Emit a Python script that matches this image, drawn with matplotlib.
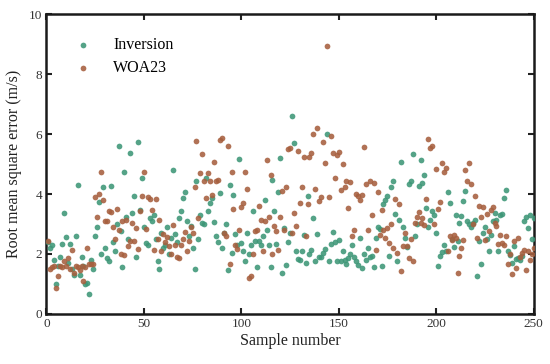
import numpy as np
import matplotlib
matplotlib.use("Agg")
import matplotlib.pyplot as plt

plt.rcParams['font.family'] = ['Liberation Serif', 'DejaVu Serif']

samples = np.arange(1, 251)

inversion = [
    2.4, 2.2, 2.3, 1.8, 1.0, 1.6, 1.9, 2.33, 3.36, 2.57,
    1.7, 2.33, 1.5, 1.3, 2.6, 4.31, 1.3, 1.89, 1.6, 1.0,
    1.04, 0.65, 1.8, 1.5, 2.6, 2.9, 3.75, 2.0, 4.24, 2.2,
    1.87, 1.76, 4.27, 2.4, 2.1, 3.0, 5.61, 2.76, 1.57, 4.73,
    3.25, 2.5, 5.36, 3.36, 3.92, 1.9, 5.72, 3.46, 4.55, 2.89,
    2.37, 2.3, 3.2, 3.09, 3.31, 2.5, 1.76, 1.49, 2.7, 2.2,
    2.3, 2.9, 2.0, 2.54, 4.81, 2.68, 2.4, 3.2, 3.42, 3.86,
    4.08, 3.09, 2.6, 2.93, 2.2, 1.49, 4.45, 2.5, 3.3, 3.04,
    2.99, 4.53, 3.42, 3.7, 3.87, 3.07, 2.6, 2.4, 4.03, 2.2,
    2.7, 3.0, 1.45, 4.29, 2.04, 3.97, 2.66, 2.3, 5.16, 2.36,
    2.1, 1.76, 2.7, 2.0, 2.3, 3.45, 2.43, 1.57, 2.43, 2.29,
    2.6, 3.81, 2.81, 2.29, 1.57, 4.47, 3.42, 2.34, 4.08, 5.2,
    1.36, 2.87, 1.62, 2.4, 2.7, 6.61, 5.69, 2.09, 1.82, 1.79,
    2.09, 2.64, 1.69, 3.95, 2.0, 2.15, 3.2, 1.76, 2.67, 1.9,
    1.9, 2.04, 2.18, 6.0, 1.78, 2.35, 2.73, 2.39, 1.76, 2.48,
    1.78, 2.09, 1.8, 1.65, 1.87, 2.0, 2.31, 1.9, 1.76, 1.62,
    2.53, 1.53, 2.0, 1.8, 2.2, 1.89, 1.93, 1.57, 2.54, 2.89,
    2.84, 1.6, 3.67, 3.81, 3.92, 1.93, 4.22, 4.45, 3.33, 1.78,
    3.12, 5.06, 2.89, 2.54, 2.24, 4.35, 4.43, 5.33, 2.6, 3.0,
    4.26, 5.13, 4.37, 4.63, 3.55, 2.9, 3.15, 3.42, 3.31, 2.7,
    1.6, 1.92, 2.05, 2.3, 2.1, 4.08, 3.7, 2.5, 2.22, 3.31,
    2.43, 3.04, 3.28, 3.78, 4.09, 3.11, 3.0, 2.89, 3.04, 3.12,
    1.27, 2.43, 1.65, 2.7, 2.9, 2.5, 2.1, 2.64, 3.1, 3.36,
    3.15, 2.1, 3.31, 3.34, 3.87, 4.14, 2.09, 1.98, 1.7, 2.26,
    1.82, 1.87, 1.81, 1.93, 3.11, 3.25, 2.87, 3.3, 2.5, 3.2,
]

woa23 = [
    2.43, 1.5, 1.55, 1.6, 0.85, 1.27, 1.6, 1.55, 1.75, 1.6,
    1.87, 1.5, 2.13, 1.35, 1.6, 1.55, 1.45, 1.6, 1.1, 1.55,
    2.2, 1.65, 1.68, 1.65, 3.9, 3.23, 4.0, 4.75, 3.8, 3.1,
    3.1, 3.45, 3.4, 2.9, 2.5, 3.5, 2.8, 1.99, 3.09, 1.95,
    3.15, 2.26, 2.43, 3.04, 2.43, 2.87, 2.18, 3.42, 3.94, 4.75,
    2.84, 3.9, 3.83, 3.46, 2.15, 3.84, 2.5, 3.15, 2.1, 2.67,
    2.4, 2.56, 2.26, 2.0, 2.98, 2.3, 1.9, 1.85, 2.3, 2.5,
    2.74, 2.1, 2.44, 2.9, 2.7, 4.22, 5.77, 3.2, 4.7, 5.34,
    4.42, 3.87, 4.7, 4.45, 3.97, 5.08, 4.42, 4.47, 5.8, 5.88,
    2.7, 2.6, 5.6, 1.65, 4.72, 3.5, 2.3, 2.16, 2.81, 3.56,
    3.7, 4.72, 4.17, 1.19, 1.27, 2.0, 2.76, 2.81, 3.61, 3.15,
    2.1, 3.09, 5.12, 3.22, 4.64, 2.0, 2.92, 2.76, 2.15, 3.23,
    4.11, 2.81, 4.22, 5.5, 5.53, 2.7, 3.37, 2.95, 5.42, 3.7,
    4.22, 5.22, 2.59, 3.66, 5.22, 5.38, 6.0, 4.17, 6.21, 3.77,
    3.91, 5.75, 5.05, 8.93, 3.91, 5.94, 5.36, 4.55, 5.3, 5.41,
    4.14, 5.0, 4.22, 4.42, 3.53, 4.4, 2.59, 2.81, 4.0, 3.92,
    3.81, 3.97, 5.56, 4.33, 2.8, 4.42, 3.3, 4.36, 2.15, 4.08,
    2.65, 3.46, 2.81, 2.54, 2.86, 2.37, 3.0, 2.2, 3.84, 2.04,
    3.67, 1.44, 2.26, 2.7, 2.28, 1.88, 2.5, 1.76, 3.04, 3.25,
    3.39, 3.04, 3.2, 2.98, 3.83, 5.84, 5.53, 5.61, 3.0, 4.84,
    3.51, 3.72, 5.05, 4.72, 4.86, 2.1, 2.6, 2.48, 2.64, 2.54,
    1.38, 1.94, 2.2, 2.48, 4.8, 4.45, 5.03, 4.33, 3.0, 3.95,
    2.54, 3.61, 3.25, 3.56, 2.48, 3.32, 2.76, 3.46, 3.56, 3.04,
    2.92, 2.33, 2.64, 2.37, 2.31, 2.6, 1.67, 2.0, 1.33, 2.43,
    1.53, 2.52, 1.9, 2.04, 2.15, 1.48, 2.1, 1.8, 2.0, 2.2,
]

series_names = ["Inversion", "WOA23"]
x_ticks = [0, 50, 100, 150, 200, 250]
y_ticks = [0, 2, 4, 6, 8, 10]

fig = plt.figure(figsize=(5.5, 3.64), dpi=100)
ax = fig.add_axes([0.0845, 0.1374, 0.8855, 0.824])

ax.scatter(samples, inversion, s=17, color="#3d9677", alpha=0.88,
           linewidths=0, label=series_names[0], zorder=3)
ax.scatter(samples, woa23, s=17, color="#a65f3e", alpha=0.88,
           linewidths=0, label=series_names[1], zorder=3)

ax.set_xlim(0, 250)
ax.set_ylim(0, 10)
ax.set_xticks(x_ticks)
ax.set_yticks(y_ticks)
ax.tick_params(direction="in", length=4, width=1.5, top=True, right=True,
               labelsize=9.5, pad=3, colors="#222222", labelcolor="#333333")
for sp in ax.spines.values():
    sp.set_linewidth(1.8)
    sp.set_color("#1a1a1a")

ax.set_xlabel("Sample number", fontsize=11.5, labelpad=2, color="#222222")
ax.set_ylabel("Root mean square error (m/s)", fontsize=11.5, labelpad=5, color="#222222")

leg = ax.legend(loc="upper left", bbox_to_anchor=(0.012, 0.97), frameon=False,
                fontsize=11.5, handletextpad=0.9, labelspacing=0.4,
                markerscale=1.0)

fig.savefig("out.png", dpi=100)
